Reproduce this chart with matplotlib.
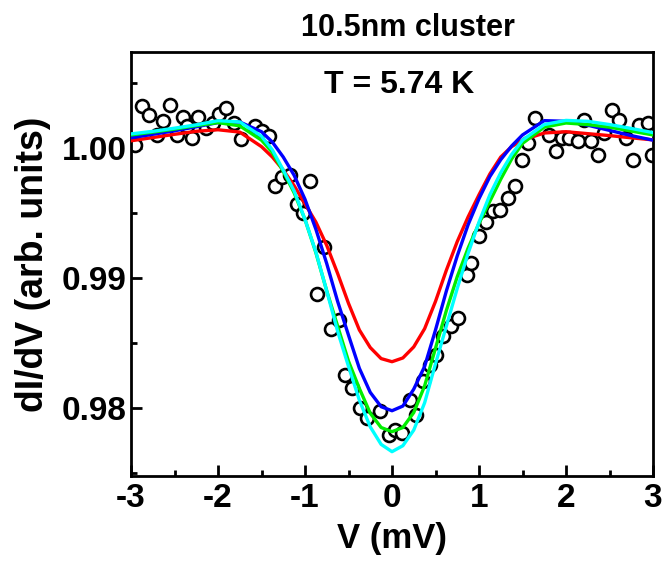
import matplotlib
matplotlib.use("Agg")
import matplotlib.pyplot as plt
from matplotlib.ticker import MultipleLocator

plt.rcParams['font.family'] = ['Liberation Sans', 'DejaVu Sans']

# measured dI/dV data points
v_data = [-2.95, -2.875, -2.79, -2.70, -2.63, -2.55, -2.47, -2.40, -2.36, -2.30,
          -2.23, -2.14, -2.06, -1.99, -1.91, -1.82, -1.74, -1.57, -1.49, -1.41,
          -1.34, -1.265, -1.17, -1.09, -1.02, -0.94, -0.857, -0.78, -0.70, -0.61,
          -0.54, -0.46, -0.367, -0.29, -0.14, -0.04, 0.03, 0.11, 0.21, 0.28,
          0.36, 0.44, 0.51, 0.59, 0.68, 0.76, 0.86, 0.91, 1.00, 1.086,
          1.16, 1.24, 1.33, 1.41, 1.49, 1.56, 1.64, 1.81, 1.89, 1.95,
          2.04, 2.14, 2.21, 2.29, 2.37, 2.44, 2.53, 2.61, 2.69, 2.77,
          2.84, 2.94, 2.99]
g_data = [1.0002, 1.0032, 1.0025, 1.0010, 1.0021, 1.0033, 1.0010, 1.0024, 1.0017, 1.0008,
          1.0024, 1.0015, 1.0019, 1.0026, 1.0031, 1.0019, 1.0007, 1.0017, 1.0013, 1.0009,
          0.99705, 0.99775, 0.99795, 0.99569, 0.9950, 0.99744, 0.98879, 0.99236, 0.98610, 0.98679,
          0.98256, 0.98154, 0.9800, 0.97923, 0.97975, 0.97795, 0.97833, 0.97808, 0.98064, 0.97948,
          0.98205, 0.98333, 0.98410, 0.98551, 0.98628, 0.98692, 0.99025, 0.99115, 0.99321, 0.99431,
          0.99513, 0.99526, 0.99615, 0.99705, 0.9991, 1.00038, 1.00231, 1.00102, 0.99975, 1.00077,
          1.00077, 1.00056, 1.00218, 1.00056, 0.99948, 1.00115, 1.00295, 1.00218, 1.00077, 0.9991,
          1.0018, 1.0019, 0.99948]

v_fit = [-3.0, -2.75, -2.5, -2.25, -2.0, -1.75, -1.5, -1.375, -1.25, -1.125,
         -1.0, -0.875, -0.75, -0.625, -0.5, -0.375, -0.25, -0.125, 0.0,
         0.125, 0.25, 0.375, 0.5, 0.625, 0.75, 0.875, 1.0, 1.125, 1.25,
         1.375, 1.5, 1.75, 2.0, 2.25, 2.5, 2.75, 3.0]
fit_red = [1.00055, 1.00080, 1.00105, 1.00128, 1.00140, 1.00122, 1.00010, 0.99930, 0.99830, 0.99710,
           0.99570, 0.99430, 0.99250, 0.99035, 0.98805, 0.98600, 0.98465, 0.98380, 0.98356,
           0.98385, 0.98470, 0.98610, 0.98820, 0.99060, 0.99280, 0.99470, 0.99640, 0.99800, 0.99930,
           1.00010, 1.00060, 1.00115, 1.00125, 1.00110, 1.00095, 1.00078, 1.00062]
fit_blue = [1.00078, 1.00105, 1.00132, 1.00163, 1.00195, 1.00200, 1.00125, 1.00045, 0.99930, 0.99790,
            0.99605, 0.99375, 0.99110, 0.98820, 0.98560, 0.98305, 0.98120, 0.98010, 0.97979,
            0.98015, 0.98145, 0.98320, 0.98600, 0.98900, 0.99170, 0.99410, 0.99610, 0.99780, 0.99910,
            1.00015, 1.00100, 1.00210, 1.00205, 1.00175, 1.00135, 1.00095, 1.00060]
fit_green = [1.00100, 1.00122, 1.00145, 1.00172, 1.00195, 1.00170, 1.00060, 0.99965, 0.99820, 0.99655,
             0.99450, 0.99195, 0.98900, 0.98630, 0.98360, 0.98150, 0.97960, 0.97850, 0.97818,
             0.97850, 0.97965, 0.98170, 0.98460, 0.98750, 0.99010, 0.99230, 0.99420, 0.99590, 0.99760,
             0.99915, 1.00035, 1.00160, 1.00192, 1.00180, 1.00160, 1.00130, 1.00100]
fit_cyan = [1.00108, 1.00128, 1.00152, 1.00178, 1.00210, 1.00200, 1.00090, 0.99985, 0.99830, 0.99670,
            0.99450, 0.99200, 0.98900, 0.98590, 0.98320, 0.98060, 0.97855, 0.97720, 0.97664,
            0.97710, 0.97830, 0.98040, 0.98340, 0.98630, 0.98920, 0.99190, 0.99430, 0.99640, 0.99810,
            0.99950, 1.00060, 1.00180, 1.00212, 1.00205, 1.00180, 1.00150, 1.00118]

fit_series = [(fit_red, '#ff0000'), (fit_blue, '#0000ff'),
              (fit_green, '#00ee00'), (fit_cyan, '#00ffff')]

x_ticks = [-3, -2, -1, 0, 1, 2, 3]
x_ticklabels = ['-3', '-2', '-1', '0', '1', '2', '3']
y_ticks = [0.98, 0.99, 1.00]
y_ticklabels = ['0.98', '0.99', '1.00']

fig = plt.figure(figsize=(6.65, 5.61), dpi=100)
ax = fig.add_axes([131/665, 1 - 476/561, (653 - 131)/665, (476 - 52)/561])

ax.plot(v_data, g_data, linestyle='none', marker='o', markersize=9.3,
        markerfacecolor='white', markeredgecolor='black', markeredgewidth=1.9, zorder=2)
for ys, c in fit_series:
    ax.plot(v_fit, ys, color=c, linewidth=2.4, zorder=3,
            solid_joinstyle='round', solid_capstyle='round')

ax.set_xlim(-3, 3)
ax.set_ylim(0.97477, 1.00738)
ax.set_xticks(x_ticks)
ax.set_xticklabels(x_ticklabels)
ax.set_yticks(y_ticks)
ax.set_yticklabels(y_ticklabels)
ax.xaxis.set_minor_locator(MultipleLocator(0.5))
ax.yaxis.set_minor_locator(MultipleLocator(0.005))

for s in ax.spines.values():
    s.set_linewidth(2)
ax.tick_params(which='both', direction='in', top=False, right=False, width=2)
ax.tick_params(which='major', length=8, labelsize=24)
ax.tick_params(axis='x', which='major', pad=5)
ax.tick_params(axis='y', which='major', pad=3)
ax.tick_params(which='minor', length=4.5)
for lbl in ax.get_xticklabels() + ax.get_yticklabels():
    lbl.set_fontweight('bold')

ax.set_xlabel('V (mV)', fontsize=25, fontweight='bold', labelpad=6)
ax.set_ylabel('dI/dV (arb. units)', fontsize=27, fontweight='bold', labelpad=8)
fig.text(0.613, 1 - 28/561, '10.5nm cluster', ha='center', va='center',
         fontsize=22, fontweight='bold')
ax.text(0.514, 1 - 33/424, 'T = 5.74 K', transform=ax.transAxes, ha='center', va='center',
        fontsize=23, fontweight='bold')

fig.savefig('out.png', dpi=100)
